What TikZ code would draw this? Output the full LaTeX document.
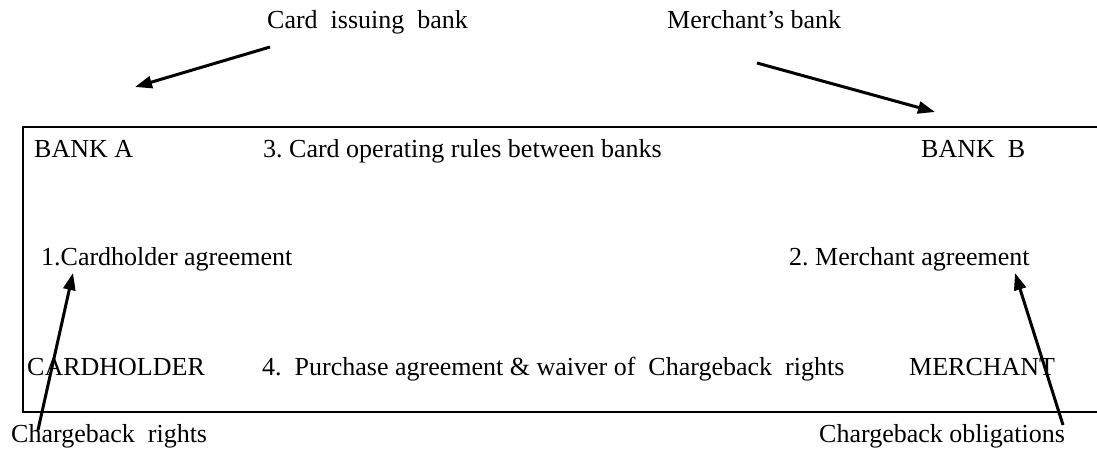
\documentclass[tikz,border=0pt]{standalone}
\usepackage{fontspec}
\setmainfont{Liberation Serif}
\usetikzlibrary{arrows.meta}
\frenchspacing
\tikzset{
  lbl/.style={anchor=base west, inner sep=0pt, font=\fontsize{26}{30}\selectfont},
  ptr/.style={line width=3pt, -{Triangle[length=17pt,width=12pt]}},
  frame/.style={line width=1.5pt}
}
\begin{document}
\begin{tikzpicture}[x=1pt,y=-1pt]
\useasboundingbox (0,0) rectangle (1097,448);
\draw[frame] (1120,127) -- (23,127) -- (23,412) -- (1120,412);
% labels
\node[lbl] (issuing) at (267,28) {Card\ \ issuing\ \ bank};
\node[lbl] (mbank) at (667,28) {Merchant’s bank};
\node[lbl] (banka) at (34,157) {BANK A};
\node[lbl] (rules) at (263,157) {3. Card operating rules between banks};
\node[lbl] (bankb) at (921,157) {BANK\ \ B};
\node[lbl] (cha) at (41,265) {1.Cardholder agreement};
\node[lbl] (ma) at (789,265) {2. Merchant agreement};
\node[lbl] (ch) at (27,375) {CARDHOLDER};
\node[lbl] (pa) at (262,375) {4.\ \ Purchase agreement \& waiver of\ \ Chargeback\ \ rights};
\node[lbl] (merchant) at (909,375) {MERCHANT};
\node[lbl] (cbr) at (11,442) {Chargeback\ \ rights};
\node[lbl] (cbo) at (819,442) {Chargeback obligations};
% arrow endpoints
\coordinate (a1s) at (270,47);
\coordinate (a1e) at (135,87);
\coordinate (a2s) at (757,63);
\coordinate (a2e) at (935,112);
\coordinate (a3s) at (38,430);
\coordinate (a3e) at (73,273);
\coordinate (a4s) at (1063,425);
\coordinate (a4e) at (1015,273);
\draw[ptr] (a1s) -- (a1e);
\draw[ptr] (a2s) -- (a2e);
\draw[ptr] (a3s) -- (a3e);
\draw[ptr] (a4s) -- (a4e);
\end{tikzpicture}
\end{document}
